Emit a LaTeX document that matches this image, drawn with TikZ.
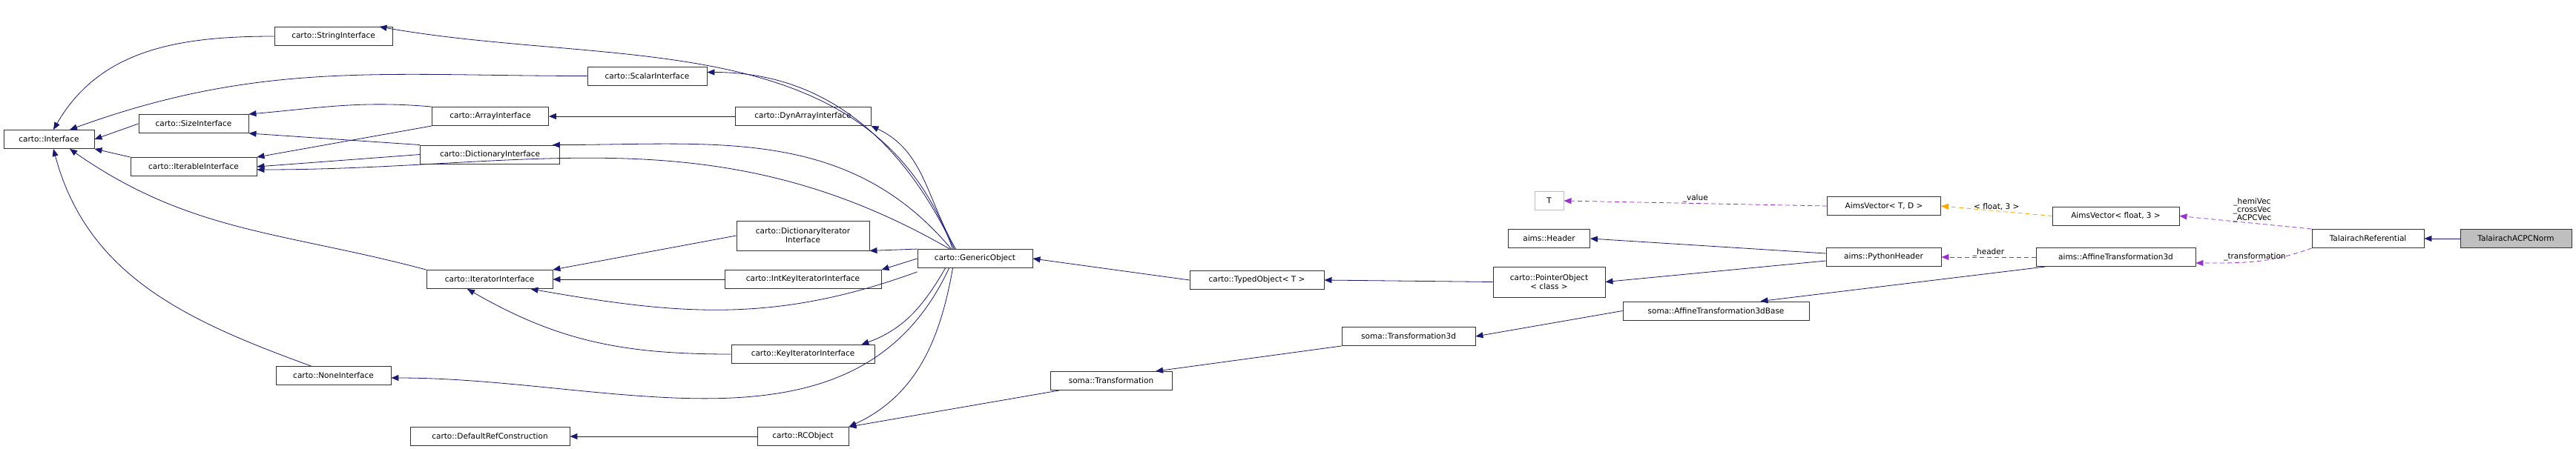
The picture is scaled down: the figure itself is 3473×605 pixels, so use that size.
\documentclass[tikz,border=0pt]{standalone}
\usepackage{fontspec}
\setmainfont{DejaVu Sans}
\usetikzlibrary{arrows.meta}
\definecolor{navy}{RGB}{25,25,112}
\definecolor{orchid}{RGB}{153,50,204}
\definecolor{amber}{RGB}{255,165,0}

\begin{document}
\begin{tikzpicture}[x=1pt,y=-1pt,
  cls/.style={draw=black!80,fill=white,font=\fontsize{10.5}{12}\selectfont,
    minimum height=25pt,inner sep=2pt,align=center,line width=0.9pt},
  inh/.style={draw=navy,line width=0.8pt,-{Triangle[length=10pt,width=8pt]}},
  use/.style={draw=orchid,dashed,dash pattern=on 6pt off 4pt,line width=0.8pt,
    -{Triangle[length=10pt,width=8pt]}},
  tpl/.style={use,draw=amber},
  lbl/.style={font=\fontsize{10.5}{11}\selectfont,align=center,inner sep=1pt}]
  \useasboundingbox (0,0) rectangle (3473,605);
  % carto interfaces
  \node[cls,minimum width=122pt] (iface) at (66,188) {carto::Interface};
  \node[cls,minimum width=159pt] (str) at (449.5,49) {carto::StringInterface};
  \node[cls,minimum width=148pt] (size) at (261,167) {carto::SizeInterface};
  \node[cls,minimum width=170pt] (iter) at (261,225) {carto::IterableInterface};
  \node[cls,minimum width=155pt] (none) at (449.5,507) {carto::NoneInterface};
  \node[cls,minimum width=161pt] (scal) at (872.5,102.5) {carto::ScalarInterface};
  \node[cls,minimum width=157pt] (arr) at (661,157) {carto::ArrayInterface};
  \node[cls,minimum width=188pt] (dict) at (660.5,208.5) {carto::DictionaryInterface};
  \node[cls,minimum width=183pt] (dyn) at (1082.5,157) {carto::DynArrayInterface};
  \node[cls,minimum width=170pt] (itor) at (660,377) {carto::IteratorInterface};
  \node[cls,minimum width=179pt,minimum height=40pt] (ditor) at (1082.5,318) {carto::DictionaryIterator\\Interface};
  \node[cls,minimum width=211pt] (iktor) at (1082.5,377) {carto::IntKeyIteratorInterface};
  \node[cls,minimum width=193pt] (ktor) at (1082.5,478) {carto::KeyIteratorInterface};
  \node[cls,minimum width=215pt] (dref) at (660.5,589) {carto::DefaultRefConstruction};
  \node[cls,minimum width=123pt] (rc) at (1082.5,589) {carto::RCObject};
  \node[cls,minimum width=155pt] (gen) at (1314.5,349) {carto::GenericObject};
  \node[cls,minimum width=181pt] (typed) at (1694.5,378) {carto::TypedObject\textless{} T \textgreater};
  \node[cls,minimum width=151pt,minimum height=41pt] (ptr) at (2088.5,380.5) {carto::PointerObject\\\textless{} class \textgreater};
  % soma / aims
  \node[cls,minimum width=164pt] (tr) at (1498,514) {soma::Transformation};
  \node[cls,minimum width=180pt] (tr3) at (1899,454) {soma::Transformation3d};
  \node[cls,minimum width=251pt] (afb) at (2313.5,419.5) {soma::AffineTransformation3dBase};
  \node[cls,minimum width=39pt,draw=black!25] (t) at (2088.5,271) {T};
  \node[cls,minimum width=110pt] (hdr) at (2088.5,322) {aims::Header};
  \node[cls,minimum width=153pt] (avec) at (2540,278) {AimsVector\textless{} T, D \textgreater};
  \node[cls,minimum width=155pt] (phdr) at (2539.5,347) {aims::PythonHeader};
  \node[cls,minimum width=171pt] (avf) at (2852.5,291.5) {AimsVector\textless{} float, 3 \textgreater};
  \node[cls,minimum width=215pt] (aff) at (2852.5,347) {aims::AffineTransformation3d};
  \node[cls,minimum width=151pt] (tref) at (3192.5,322) {TalairachReferential};
  \node[cls,minimum width=150pt,fill=black!25] (norm) at (3392,322) {TalairachACPCNorm};

  % inheritance
  \draw[inh] (str.west) to[out=180,in=60] ([xshift=6pt]iface.north);
  \draw[inh] (scal.west) to[out=180,in=20] ([xshift=28pt]iface.north);
  \draw[inh] (size.west) -- (iface.east);
  \draw[inh] (iter.north west) -- (iface.south east);
  \draw[inh] (itor.north west) to[out=165,in=-35] ([xshift=28pt]iface.south);
  \draw[inh] ([xshift=-30pt]none.north) to[out=160,in=-75] ([xshift=6pt]iface.south);
  \draw[inh] (arr.north west) to[out=175,in=5] (size.north east);
  \draw[inh] (dict.north west) -- (size.south east);
  \draw[inh] (arr.south west) -- (iter.north east);
  \draw[inh] (dict.west) -- (iter.east);
  \draw[inh] (dyn.west) -- (arr.east);
  \draw[inh] (ditor.west) -- (itor.north east);
  \draw[inh] (iktor.west) -- (itor.east);
  \draw[inh] (ktor.west) to[out=180,in=-30] ([xshift=-30pt]itor.south);
  \draw[inh] ([xshift=-30pt]gen.north) to[out=110,in=-10] ([xshift=-18pt]str.north east);
  \draw[inh] ([xshift=-28pt]gen.north) to[out=115,in=0] ([yshift=5pt]scal.east);
  \draw[inh] ([xshift=-26pt]gen.north) to[out=120,in=-25] (dyn.south east);
  \draw[inh] ([xshift=-32pt]gen.north) to[out=130,in=0] ([xshift=-10pt]dict.north east);
  \draw[inh] ([xshift=-34pt]gen.north) to[out=150,in=0] ([yshift=-4pt]iter.east);
  \draw[inh] (gen.north west) -- (ditor.south east);
  \draw[inh] (gen.west) -- (iktor.north east);
  \draw[inh] ([yshift=-5pt]gen.south west) to[out=200,in=-10] ([xshift=-30pt]itor.south east);
  \draw[inh] ([xshift=-40pt]gen.south) to[out=-120,in=20] ([xshift=-18pt]ktor.north east);
  \draw[inh] ([xshift=-35pt]gen.south) to[out=-115,in=0] ([yshift=-3pt]none.east);
  \draw[inh] ([xshift=-30pt]gen.south) to[out=-100,in=25] (rc.north east);
  \draw[inh] ([xshift=-70pt]tr.south) -- (rc.north east);
  \draw[inh] (rc.west) -- (dref.east);
  \draw[inh] (tr3.south west) -- ([xshift=60pt]tr.north);
  \draw[inh] (afb.west) -- (tr3.east);
  \draw[inh] ([xshift=-95pt]aff.south) -- ([xshift=60pt]afb.north);
  \draw[inh] (typed.west) -- (gen.east);
  \draw[inh] (ptr.west) -- (typed.east);
  \draw[inh] ([yshift=-5pt]phdr.west) -- (ptr.east);
  \draw[inh] ([yshift=5pt]phdr.west) -- (hdr.east);
  \draw[inh] (norm.west) -- (tref.east);
  % members
  \draw[use] (avec.west) -- node[lbl,above,pos=0.5] {\_value} (t.east);
  \draw[tpl] (avf.west) -- node[lbl,above] {\textless{} float, 3 \textgreater} (avec.east);
  \draw[use] (tref.north west) -- node[lbl,above,pos=0.45] {\_hemiVec\\\_crossVec\\\_ACPCVec} (avf.east);
  \draw[use] (tref.south west) to[out=-160,in=0] node[lbl,above,pos=0.5] {\_transformation} ([yshift=-8pt]aff.east);
  \draw[use] (aff.west) -- node[lbl,above] {\_header} (phdr.east);
\end{tikzpicture}
\end{document}
